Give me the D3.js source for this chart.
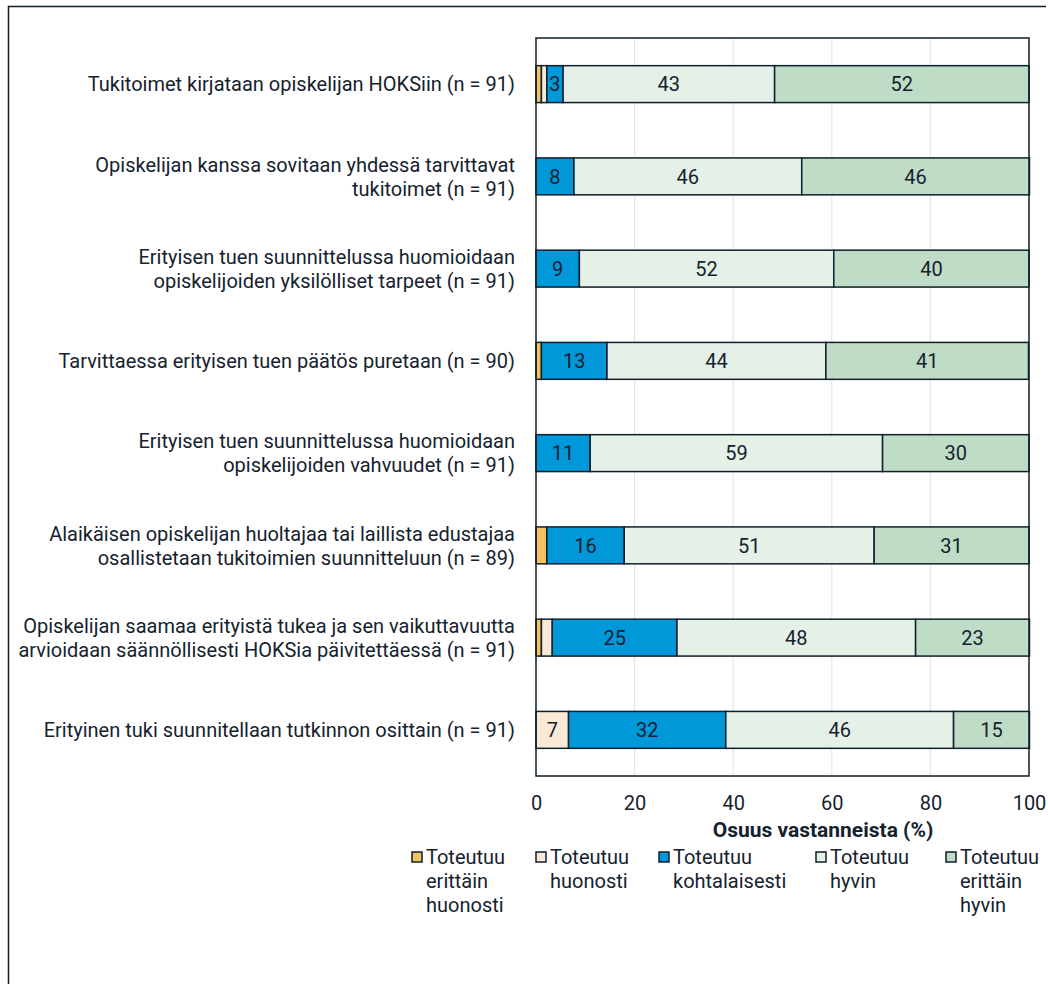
<!DOCTYPE html>
<html>
<head>
<meta charset="utf-8">
<script src="https://cdn.jsdelivr.net/npm/d3@7"></script>
<style>
  body { margin: 0; background: #fff; }
  text { font-family: 'Roboto', sans-serif; fill: #15222e; }
</style>
</head>
<body>
<svg width="1048" height="984"></svg>
<script>
// kategoriat (rivit ylhäältä alas), monirivinen teksti \n-erottimella
const categories = [
	'Tukitoimet kirjataan opiskelijan HOKSiin (n = 91)',
	'Opiskelijan kanssa sovitaan yhdessä tarvittavat\ntukitoimet (n = 91)',
	'Erityisen tuen suunnittelussa huomioidaan\nopiskelijoiden yksilölliset tarpeet (n = 91)',
	'Tarvittaessa erityisen tuen päätös puretaan (n = 90)',
	'Erityisen tuen suunnittelussa huomioidaan\nopiskelijoiden vahvuudet (n = 91)',
	'Alaikäisen opiskelijan huoltajaa tai laillista edustajaa\nosallistetaan tukitoimien suunnitteluun (n = 89)',
	'Opiskelijan saamaa erityistä tukea ja sen vaikuttavuutta\narvioidaan säännöllisesti HOKSia päivitettäessä (n = 91)',
	'Erityinen tuki suunnitellaan tutkinnon osittain (n = 91)'
]

const seriesNames = [
	'Toteutuu\nerittäin\nhuonosti',
	'Toteutuu\nhuonosti',
	'Toteutuu\nkohtalaisesti',
	'Toteutuu\nhyvin',
	'Toteutuu\nerittäin\nhyvin'
]

// osuudet (%) sarjoittain, rivit samassa järjestyksessä kuin categories
const veryPoor = [1.1, 0, 0, 1.1, 0, 2.2, 1.1, 0]
const poor = [1.1, 0, 0, 0, 0, 0, 2.2, 6.6]
const moderate = [3.3, 7.7, 8.8, 13.3, 11.0, 15.7, 25.3, 31.9]
const good = [42.9, 46.2, 51.6, 44.4, 59.3, 50.7, 48.4, 46.2]
const veryGood = [51.6, 46.2, 39.6, 41.1, 29.7, 31.4, 23.1, 15.4]

const xTicks = [0, 20, 40, 60, 80, 100]
const colors = ['#f2c35f', '#fbe9d7', '#0098d8', '#e5f0e7', '#bfdcc6']

const svg = d3.select( 'svg' ),
	dark = '#0f1f2b',
	x = d3.scaleLinear().domain( [0, 100] ).range( [536, 1029] ),
	y = d3.scaleBand().domain( d3.range( categories.length ) ).range( [38, 776] )
		.paddingInner( 0.6 ).paddingOuter( 0.3 )

// kehys (ylä + vasen reuna)
svg.append( 'path' )
	.attr( 'd', 'M8.5,984 V6.5 H1046' )
	.attr( 'fill', 'none' )
	.attr( 'stroke', dark )
	.attr( 'stroke-width', 1.5 )

// apuviivat
svg.append( 'g' ).selectAll( 'line' )
	.data( xTicks.slice( 1, -1 ) )
	.join( 'line' )
	.attr( 'x1', d => x( d ) ).attr( 'x2', d => x( d ) )
	.attr( 'y1', 38 ).attr( 'y2', 776 )
	.attr( 'stroke', '#e6e6e6' )
	.attr( 'stroke-width', 1.2 )

// pinotut palkit
const rows = categories.map( ( c, i ) => ( {
	i, vals: [veryPoor[i], poor[i], moderate[i], good[i], veryGood[i]]
} ) )

const stack = d3.stack().keys( d3.range( 5 ) ).value( ( d, k ) => d.vals[k] )
const layers = stack( rows )

const bars = svg.append( 'g' )
layers.forEach( ( layer, k ) => {
	bars.selectAll( null )
		.data( layer.filter( d => d[1] - d[0] > 0 ) )
		.join( 'rect' )
		.attr( 'x', d => x( d[0] ) )
		.attr( 'width', d => x( d[1] ) - x( d[0] ) )
		.attr( 'y', d => y( d.data.i ) )
		.attr( 'height', y.bandwidth() )
		.attr( 'fill', colors[k] )
		.attr( 'stroke', dark )
		.attr( 'stroke-width', 1.5 )
} )

layers.forEach( ( layer, k ) => {
	bars.selectAll( null )
		.data( layer.filter( d => Math.round( d[1] - d[0] ) >= 3 ) )
		.join( 'text' )
		.attr( 'x', d => ( x( d[0] ) + x( d[1] ) ) / 2 )
		.attr( 'y', d => y( d.data.i ) + y.bandwidth() / 2 )
		.attr( 'dy', '0.36em' )
		.attr( 'text-anchor', 'middle' )
		.style( 'font-size', '20px' )
		.text( d => Math.round( d[1] - d[0] ) )
} )

// kuva-alueen reunus
svg.append( 'rect' )
	.attr( 'x', 536 ).attr( 'y', 38 )
	.attr( 'width', 493 ).attr( 'height', 738 )
	.attr( 'fill', 'none' )
	.attr( 'stroke', dark )
	.attr( 'stroke-width', 1.5 )

// kategoriat
svg.append( 'g' ).selectAll( 'text' )
	.data( categories )
	.join( 'text' )
	.attr( 'text-anchor', 'end' )
	.style( 'font-size', '20px' )
	.each( function( d, i ) {
		const lines = d.split( '\n' ),
			cy = y( i ) + y.bandwidth() / 2
		d3.select( this ).selectAll( 'tspan' )
			.data( lines )
			.join( 'tspan' )
			.attr( 'x', 515 )
			.attr( 'y', ( l, j ) => cy + ( j - ( lines.length - 1 ) / 2 ) * 24 )
			.attr( 'dy', '0.36em' )
			.text( l => l )
	} )

// x-akseli
const axis = svg.append( 'g' )
	.attr( 'transform', 'translate(0, 776)' )
	.call( d3.axisBottom( x ).tickValues( xTicks ).tickSize( 0 ).tickPadding( 20 ) )
axis.select( '.domain' ).remove()
axis.selectAll( 'text' )
	.style( 'font-size', '20px' )
	.style( 'font-family', null )
	.attr( 'fill', null )

svg.append( 'text' )
	.attr( 'x', 823 ).attr( 'y', 829 )
	.attr( 'dy', '0.36em' )
	.attr( 'text-anchor', 'middle' )
	.style( 'font-size', '21px' )
	.style( 'font-weight', 'bold' )
	.text( 'Osuus vastanneista (%)' )

// selite
const legendX = [412, 536, 659, 816, 946]
const legend = svg.append( 'g' ).selectAll( 'g' )
	.data( seriesNames )
	.join( 'g' )
	.attr( 'transform', ( d, i ) => `translate(${legendX[i]}, 857)` )

legend.append( 'rect' )
	.attr( 'x', 0 ).attr( 'y', -5 )
	.attr( 'width', 10 ).attr( 'height', 10 )
	.attr( 'fill', ( d, i ) => colors[i] )
	.attr( 'stroke', dark )
	.attr( 'stroke-width', 1.5 )

legend.append( 'text' )
	.style( 'font-size', '20px' )
	.selectAll( 'tspan' )
	.data( d => d.split( '\n' ) )
	.join( 'tspan' )
	.attr( 'x', 14 )
	.attr( 'y', ( l, j ) => j * 24 )
	.attr( 'dy', '0.36em' )
	.text( l => l )
</script>
</body>
</html>
